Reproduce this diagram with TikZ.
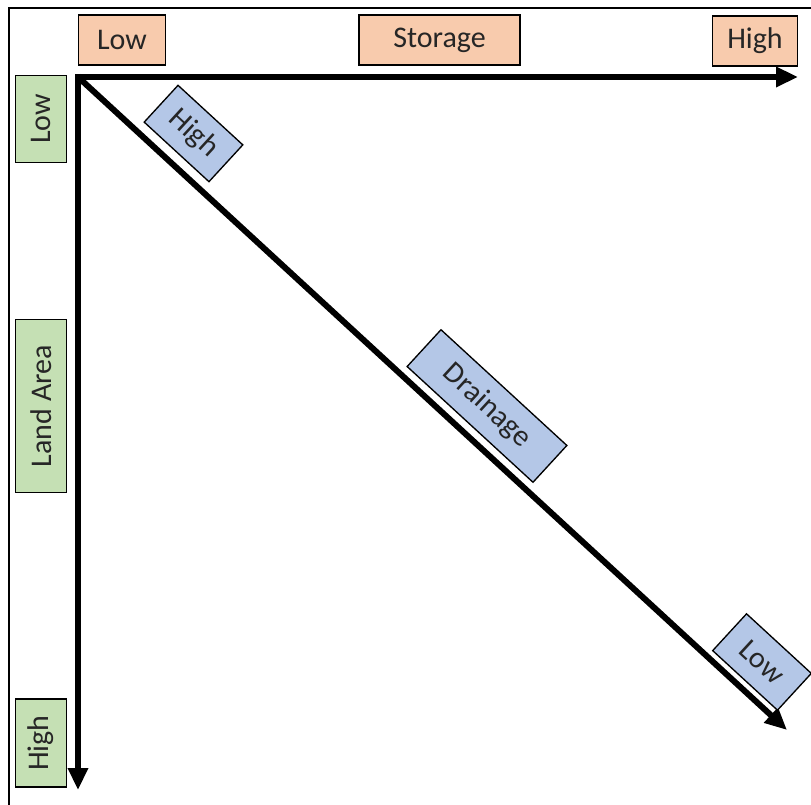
\documentclass[tikz,border=0pt]{standalone}
\usepackage{fontspec}
\setmainfont{Carlito}
\usetikzlibrary{arrows.meta}
\tikzset{
  lbl/.style={draw=black, line width=1pt, inner sep=0pt, font=\fontsize{22.5}{26}\selectfont, text=black!85},
  orangebox/.style={lbl, fill=orng, minimum height=50*0.75pt},
  greenbox/.style={lbl, fill=grn, rotate=90, minimum height=51*0.75pt},
  bluebox/.style={lbl, fill=blu, rotate=-42.6, minimum height=50*0.75pt},
  axis/.style={line width=4.5pt, -{Triangle[length=16.5pt, width=14.5pt]}},
}
\definecolor{orng}{HTML}{F8CBAD}
\definecolor{grn}{HTML}{C5E0B4}
\definecolor{blu}{HTML}{B4C7E7}
\begin{document}
\begin{tikzpicture}[x=0.75pt, y=-0.75pt]
\useasboundingbox (0,0) rectangle (811,805);
% frame (only top and left visible)
\draw[line width=1.2pt] (9,805) -- (9,8) -- (811,8);
% coordinates
\coordinate (origin) at (78,77);
\coordinate (xend) at (798,77);
\coordinate (yend) at (78,790);
\coordinate (dend) at (787,730);
% axes
\draw[axis] (75,77) -- (xend);
\draw[axis] (78,74) -- (yend);
\draw[axis] (origin) -- (dend);
% orange labels
\node[orangebox, minimum width=87*0.75pt] (slow) at (122,40) {Low};
\node[orangebox, minimum width=161*0.75pt] (storage) at (439.5,40) {Storage};
\node[orangebox, minimum width=85*0.75pt] (shigh) at (755,41) {High};
% green labels
\node[greenbox, minimum width=87*0.75pt] (llow) at (41,119) {Low};
\node[greenbox, minimum width=173*0.75pt] (land) at (41,406) {Land Area};
\node[greenbox, minimum width=88*0.75pt] (lhigh) at (41,743) {High};
% blue labels
\node[bluebox, minimum width=88*0.75pt] (dhigh) at (193.5,133.5) {High};
\node[bluebox, minimum width=171*0.75pt] (drain) at (487,406) {Drainage};
\node[bluebox, minimum width=88*0.75pt] (dlow) at (762,662) {Low};
\end{tikzpicture}
\end{document}
